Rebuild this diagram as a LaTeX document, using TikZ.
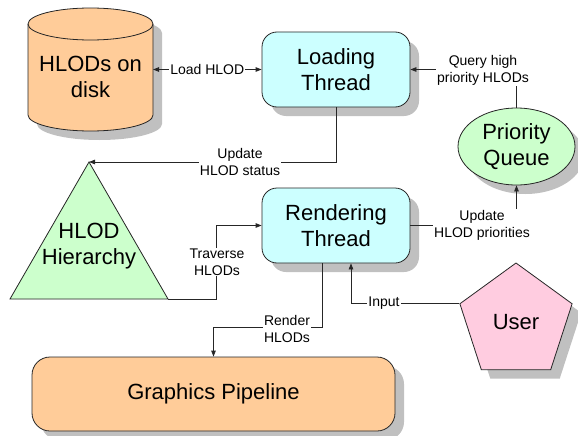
\documentclass[tikz,border=0pt]{standalone}
\usepackage{fontspec}
\setmainfont{Liberation Sans}
\usetikzlibrary{shapes.geometric,arrows.meta,shadows,calc}
\definecolor{peach}{HTML}{FFCC99}
\definecolor{cyanbox}{HTML}{CCFFFF}
\definecolor{greenbox}{HTML}{CCFFCC}
\definecolor{pinkbox}{HTML}{FFCCE0}
\definecolor{shadowgray}{HTML}{C0C0C0}
\begin{document}
\begin{tikzpicture}[x=1pt,y=1pt,
  big/.style={font=\fontsize{22}{26.4}\selectfont,align=center},
  lbl/.style={font=\fontsize{14}{16.8}\selectfont,align=center,fill=white,inner sep=1pt},
  shad/.style={drop shadow={shadow xshift=9pt,shadow yshift=-9pt,fill=shadowgray,opacity=1}},
  outline/.style={draw=black!85,line width=0.8pt},
  conn/.style={draw=black!85,line width=0.8pt,-{Triangle[length=6pt,width=4.5pt]}},
  rbox/.style={outline,shad,fill=cyanbox,rounded corners=15pt,minimum width=148pt,minimum height=75pt,inner sep=0pt,big}]
\useasboundingbox (0,0) rectangle (578,-436);

% cylinder (HLODs on disk)
\fill[shadowgray,shift={(9,-9)}] (28,-24) -- (28,-115) arc[start angle=180,end angle=360,x radius=62.5pt,y radius=16pt] -- (153,-24) arc[start angle=0,end angle=180,x radius=62.5pt,y radius=16pt] -- cycle;
\path[outline,fill=peach] (28,-24) -- (28,-115) arc[start angle=180,end angle=360,x radius=62.5pt,y radius=16pt] -- (153,-24) arc[start angle=0,end angle=180,x radius=62.5pt,y radius=16pt] -- cycle;
\draw[outline] (28,-24) arc[start angle=180,end angle=360,x radius=62.5pt,y radius=16pt];
\node[big] (disk) at (90.5,-77) {HLODs on\\disk};
\coordinate (diskE) at (153,-69.5);

% triangle (HLOD Hierarchy)
\coordinate (apex) at (89,-162);
\coordinate (bl) at (10,-299);
\coordinate (br) at (168,-299);
\fill[shadowgray,shift={(9,-9)}] (apex) -- (br) -- (bl) -- cycle;
\path[outline,fill=greenbox] (apex) -- (br) -- (bl) -- cycle;
\node[big] (hier) at (89,-246) {HLOD\\Hierarchy};

% threads
\node[rbox] (lt) at (336,-69.5) {Loading\\Thread};
\node[rbox] (rt) at (336,-225.5) {Rendering\\Thread};

% priority queue
\node[outline,shad,fill=greenbox,ellipse,minimum width=117pt,minimum height=77pt,inner sep=0pt,big] (pq) at (516.5,-146.5) {Priority\\Queue};

% user
\node[outline,shad,fill=pinkbox,regular polygon,regular polygon sides=5,minimum size=118pt,inner sep=0pt,big] (user) at (516,-322) {User};

% graphics pipeline
\node[outline,shad,fill=peach,rounded corners=18pt,minimum width=363pt,minimum height=74pt,inner sep=0pt,big] (gp) at (213.5,-394) {Graphics Pipeline};

% connectors
\draw[conn,{Triangle[length=6pt,width=4.5pt]}-{Triangle[length=6pt,width=4.5pt]}] (diskE) -- node[lbl] (lload) {Load HLOD} (lt.west);
\draw[conn] (pq.north) |- (lt.east);
\node[lbl] (lquery) at (483,-70) {Query high\\priority HLODs};
\draw[conn] (lt.south) |- (apex);
\node[lbl] (lstatus) at (240,-162) {Update\\HLOD status};
\draw[conn] (br) -| ($(rt.west)+(-45,0)$) -- (rt.west);
\node[lbl] (ltrav) at (217,-262) {Traverse\\HLODs};
\draw[conn] (rt.east) -| (pq.south);
\node[lbl] (lprio) at (482,-225) {Update\\HLOD priorities};
\draw[conn] ($(rt.south)+(-14,0)$) |- ($(gp.north)+(0,29)$) -- (gp.north);
\node[lbl] (lrender) at (287,-329) {Render\\HLODs};
\draw[conn] (user.corner 2) -| ($(rt.south)+(15,0)$);
\node[lbl] (linput) at (384,-303) {Input};
\end{tikzpicture}
\end{document}
